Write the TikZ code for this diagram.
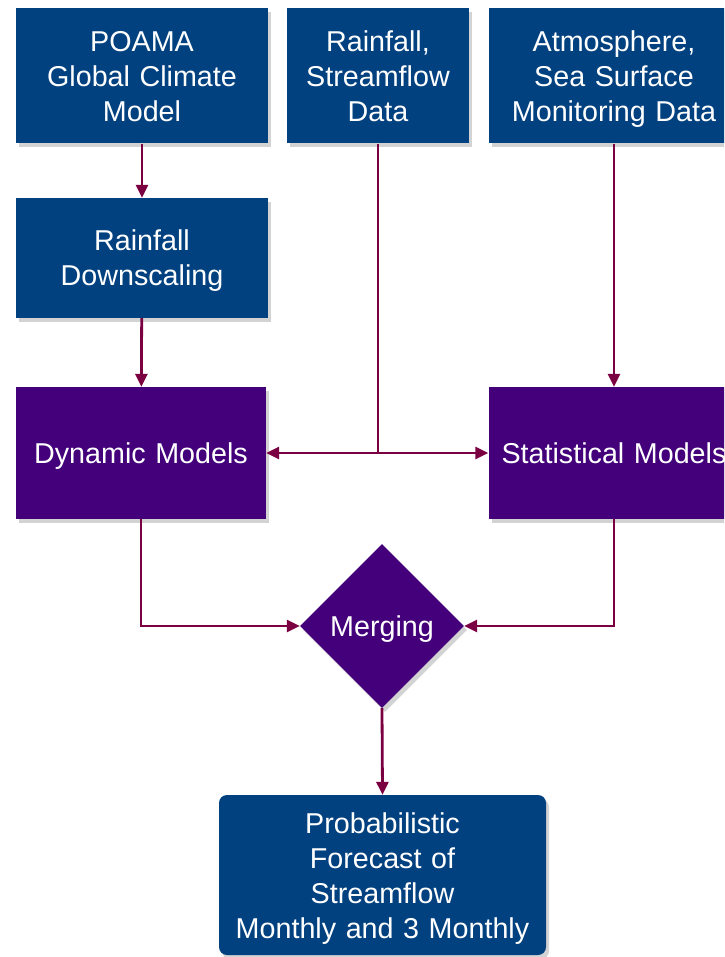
\documentclass[tikz,border=0pt]{standalone}
\usepackage{fontspec}
\setmainfont{Liberation Sans}
\usetikzlibrary{shapes.geometric,arrows.meta,shadows}

\definecolor{boxblue}{HTML}{02417F}
\definecolor{modpurple}{HTML}{43007A}
\definecolor{flowred}{HTML}{7B0041}

\tikzset{
	block/.style = {rectangle, fill=boxblue, text=white, align=center, inner sep=0pt,
		font=\fontsize{28.7}{35}\selectfont,
		execute at begin node={\rule[-7pt]{0pt}{35pt}},
		execute at end node={\rule[-7pt]{0pt}{35pt}},
		drop shadow={shadow xshift=3pt, shadow yshift=-4pt, opacity=0.35}},
	model/.style = {block, fill=modpurple},
	flow/.style = {draw=flowred, line width=2.8pt, -{Triangle[length=13pt,width=12pt]}}
}

\begin{document}
\begin{tikzpicture}[x=1pt, y=-1pt]
			\useasboundingbox (0,0) rectangle (724,957);
			\clip (0,0) rectangle (724,957);
			\node[block, text width=252pt, minimum height=135pt] (poama) at (142,76) {POAMA\\Global Climate\\Model};
			\node[block, text width=182pt, minimum height=135pt] (rainfall) at (378,76) {Rainfall,\\Streamflow\\Data};
			\node[block, text width=251pt, minimum height=135pt] (atmos) at (614,76) {Atmosphere,\\Sea Surface\\Monitoring Data};
			\node[block, text width=252pt, minimum height=120pt] (downscale) at (142,258) {Rainfall\\Downscaling};
			
			\node[model, text width=250pt, minimum height=132pt] (dynamic) at (141,453) {Dynamic Models};
			\node[model, text width=251pt, minimum height=132pt] (statmod) at (614,453) {Statistical Models};
			\node[model, diamond, aspect=1, text width=110pt, minimum width=164pt, minimum height=164pt] (merge) at (382,626) {Merging};
			\node[block, rounded corners=8pt, text width=327pt, minimum height=160pt] (forecast) at (382.5,875) {Probabilistic\\Forecast of\\Streamflow\\Monthly and 3 Monthly};
			
			\coordinate (junction) at (rainfall.south |- dynamic.east);
			\draw[flow] (poama) -- (downscale);
			\draw[flow] (downscale) -- (dynamic);
			\draw[flow] (atmos) -- (statmod);
			\draw[flow, -] (rainfall.south) -- (junction);
			\draw[flow] (junction) -- (dynamic.east);
			\draw[flow] (junction) -- (statmod.west);
			%\draw[flow] (rainfall.south) |- (statmod.west);
			\draw[flow] (dynamic.south) |- (merge.west);
			\draw[flow] (statmod.south) |- (merge.east);
			\draw[flow] (merge.south) -- (forecast.north);
\end{tikzpicture}
\end{document}
